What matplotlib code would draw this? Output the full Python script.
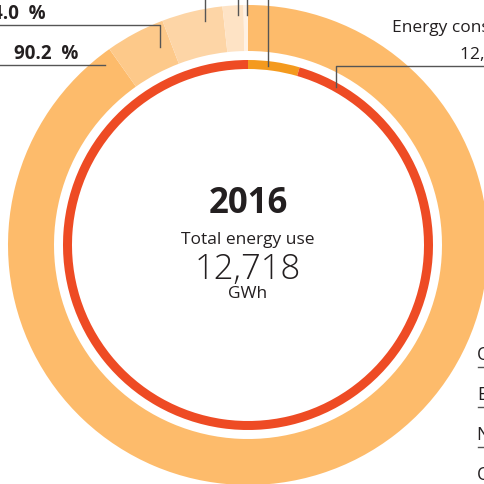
import matplotlib
matplotlib.use("Agg")
import matplotlib.pyplot as plt

# Datos del anillo exterior (porcentaje por fuente), en sentido horario desde arriba
fuentes_pct = [90.2, 4.0, 4.1, 1.4, 0.3]
fuentes_colores = ["#FDBB6B", "#FDC98A", "#FDD5A6", "#FEE3C5", "#FFF1E3"]

# Anillo interior
consumo_pct = [4.5, 95.5]
consumo_colores = ["#F49A1E", "#EE4B24"]

anio = "2016"
total_texto = "12,718"

W, H = 484, 485
plt.rcParams['font.family'] = ['Open Sans', 'DejaVu Sans']
fig = plt.figure(figsize=(W / 100, H / 100), dpi=100)
ax = fig.add_axes([0, 0, 1, 1])


def Y(y):
    # coordenadas de pixel (origen arriba) a coordenadas de datos
    return H - y


cx, cy = 248, Y(246)

ax.pie(fuentes_pct, colors=fuentes_colores, radius=240, center=(cx, cy),
       startangle=90, counterclock=False,
       wedgeprops=dict(width=46, linewidth=0))
ax.pie(consumo_pct, colors=consumo_colores, radius=185, center=(cx, cy),
       startangle=90, counterclock=False,
       wedgeprops=dict(width=9, linewidth=0))

ax.set_xlim(0, W)
ax.set_ylim(0, H)
ax.set_aspect("equal")
ax.axis("off")

txt = "#231F20"
linea = "#555555"

# Texto central
ax.text(cx, Y(204), anio, ha="center", va="center", fontsize=25,
        fontweight="bold", color=txt)
ax.text(cx, Y(240), "Total energy use", ha="center", va="center",
        fontsize=12.5, color=txt)
ax.text(cx, Y(270), total_texto, ha="center", va="center", fontsize=25,
        fontweight="light", color=txt)
ax.text(cx, Y(294), "GWh", ha="center", va="center", fontsize=12.5,
        color=txt)

# Etiquetas de la izquierda
ax.text(46, Y(14), "4.0  %", ha="right", va="center", fontsize=13.5,
        fontweight="bold", color=txt)
ax.plot([0, 160, 160], [Y(26), Y(26), Y(48)], color=linea, lw=1)
ax.text(78, Y(54), "90.2  %", ha="right", va="center", fontsize=13.5,
        fontweight="bold", color=txt)
ax.plot([0, 105], [Y(66), Y(66)], color=linea, lw=1)

# Lineas verticales superiores
for x, y2 in [(205, 22), (238, 16), (247, 16), (268, 67)]:
    ax.plot([x, x], [Y(0), Y(y2)], color=linea, lw=1)

# Etiqueta del consumo
ax.text(392, Y(28), "Energy consumption", ha="left", va="center",
        fontsize=12.5, color=txt)
ax.text(460, Y(55), "12,146 GWh", ha="left", va="center", fontsize=12.5,
        color=txt)
ax.plot([336, 336, W], [Y(88), Y(67), Y(67)], color=linea, lw=1)

# Leyenda recortada a la derecha
leyenda = ["Oil", "Electricity", "Natural gas", "Other"]
for i, nombre in enumerate(leyenda):
    yy = 355 + 40 * i
    ax.text(477, Y(yy), nombre, ha="left", va="center", fontsize=13,
            color=txt)
    if i < 3:
        ax.plot([478, W], [Y(yy + 13), Y(yy + 13)], color=linea, lw=1)

fig.savefig("out.png", dpi=100)
